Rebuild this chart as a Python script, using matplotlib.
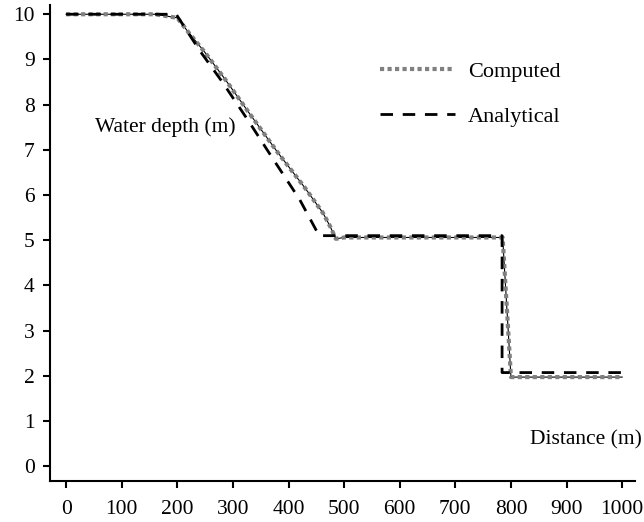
import matplotlib
matplotlib.use('Agg')
import matplotlib.pyplot as plt

# analytical solution
ana_x = [0, 198, 240, 281, 330, 372, 420, 455, 784, 784, 1010]
ana_h = [10, 10, 9.2, 8.5, 7.6, 6.8, 5.9, 5.1, 5.1, 2.07, 2.07]

# computed solution
com_x = [0, 160, 200, 220, 250, 286, 330, 380, 430, 462, 475, 485, 500, 600, 700, 785, 800, 1000]
com_h = [10, 10, 9.92, 9.6, 9.15, 8.56, 7.8, 6.95, 6.15, 5.6, 5.3, 5.03, 5.06, 5.06, 5.06, 5.06, 1.97, 1.97]

x_ticks = [0, 100, 200, 300, 400, 500, 600, 700, 800, 900, 1000]
y_ticks = [0, 1, 2, 3, 4, 5, 6, 7, 8, 9, 10]

plt.rcParams['font.family'] = ['Liberation Serif', 'DejaVu Serif']
plt.rcParams['font.size'] = 15.5

fig = plt.figure(figsize=(6.44, 5.22), dpi=100)
ax = fig.add_axes([0.0776, 0.0785, 0.9084, 0.9115])

ax.plot(com_x, com_h, color='black', lw=0.8, zorder=2)
com_line, = ax.plot(com_x, com_h, color='#808080', lw=3, linestyle=(0, (1, 0.8)),
                    zorder=3, label='Computed')
ana_line, = ax.plot(ana_x, ana_h, color='black', lw=2, linestyle=(0, (4.5, 3.5)),
                    zorder=4, label='Analytical')

ax.set_xlim(-29, 1023)
ax.set_ylim(-0.33, 10.2)
ax.set_xticks(x_ticks)
ax.set_yticks(y_ticks)

for s in ['top', 'right']:
    ax.spines[s].set_visible(False)
for s in ['left', 'bottom']:
    ax.spines[s].set_linewidth(1.5)
ax.tick_params(direction='out', length=5, width=1.5)
ax.tick_params(axis='x', pad=9)
ax.tick_params(axis='y', pad=6)

ax.text(52, 7.5, 'Water depth (m)', va='center', ha='left')
ax.text(835, 0.58, 'Distance (m)', va='center', ha='left')

ax.legend(handles=[com_line, ana_line], frameon=False, fontsize=16,
          handlelength=3.4, handletextpad=0.55, labelspacing=1.1,
          borderpad=0, borderaxespad=0,
          loc='upper left', bbox_to_anchor=(0.564, 0.882))

fig.savefig('out.png', dpi=100)
